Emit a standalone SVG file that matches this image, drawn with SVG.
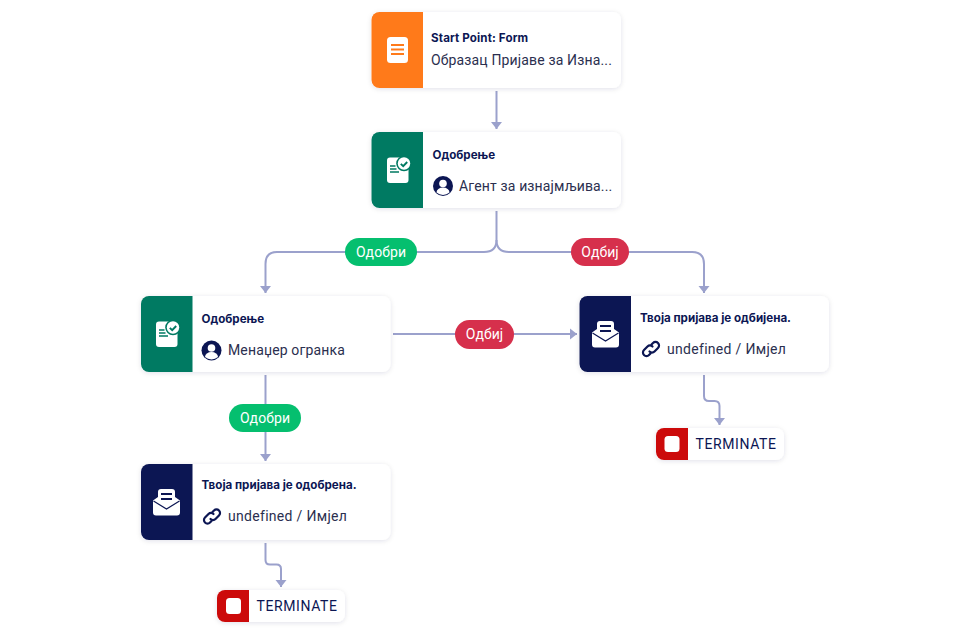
<svg xmlns="http://www.w3.org/2000/svg" width="968" height="633" viewBox="0 0 968 633">
<style>
.card{fill:#fff;filter:url(#sh)}
.t{font-family:Inter,"Noto Sans",sans-serif;font-size:11.600px;font-weight:700;fill:#0c1653}
.b{font-family:Roboto,"Noto Sans",sans-serif;font-size:14px;fill:#2b2f4f;letter-spacing:.15px}
.u{letter-spacing:.3px}
.l{font-family:Roboto,"Noto Sans",sans-serif;font-size:14px;fill:#fff;text-anchor:middle;letter-spacing:.1px}
.c{fill:none;stroke:#9ba1cc;stroke-width:2}
.k{font-family:Roboto,"Noto Sans",sans-serif;font-size:14px;fill:#0c1653;letter-spacing:.6px}
</style>
<defs>
<filter id="sh" x="-10%" y="-20%" width="120%" height="140%"><feDropShadow dx="0" dy="1" stdDeviation="2.500" flood-color="#1a2050" flood-opacity=".12"/></filter>
<marker id="a" markerUnits="userSpaceOnUse" markerWidth="8" markerHeight="12" refX="7" refY="6" orient="auto"><path d="M0 .5L7 6L0 11.500Z" fill="#9ba1cc"/></marker>
<g id="ic-approve"><rect y="0" width="21.500" height="25.500" rx="3" fill="#fff"/><circle cx="17" cy="6" r="7.800" fill="#007a62"/><circle cx="17" cy="6" r="6.200" fill="#fff"/><path d="M13.800 6.300l2.400 2.400 4-4.200" fill="none" stroke="#007a62" stroke-width="1.900"/><path d="M3 8.500h5.500M3 11.500h6.500M3 14.500h9" stroke="#007a62" stroke-width="1.500"/></g>
<g id="ic-mail"><path d="M0 11.500L5 8V3a3 3 0 0 1 3-3h11a3 3 0 0 1 3 3v5l5 3.500v12a3 3 0 0 1-3 3H3a3 3 0 0 1-3-3Z" fill="#fff"/><path d="M.5 12l13 8 13-8" fill="none" stroke="#0c1653" stroke-width="1.200"/><path d="M8 5h11M8 10h11" stroke="#0c1653" stroke-width="2.200"/></g>
<g id="ic-user"><circle r="10" fill="#0c1653"/><circle cy="-2.500" r="3.800" fill="#fff"/><path d="M-6.500 6.500a6.500 5 0 0 1 13 0a10 10 0 0 1-13 0Z" fill="#fff"/></g>
<g id="ic-link" fill="none" stroke="#0c1653" stroke-width="2.200" stroke-linecap="round"><path d="M-1.500 2.500a3.500 3.500 0 0 0 5 0l3.500-3.500a3.500 3.500 0 0 0-5-5l-1.500 1.500"/><path d="M1.500-2.500a3.500 3.500 0 0 0-5 0l-3.500 3.500a3.500 3.500 0 0 0 5 5l1.500-1.500"/></g>
<g id="ic-stop"><rect x="-7.500" y="-8" width="15" height="16" rx="3.500" fill="#fff"/></g>
</defs>
<rect width="968" height="633" fill="#fff"/>
<g id="connectors">
<path class="c" d="M496.500 91V129" marker-end="url(#a)"/>
<path class="c" d="M496.500 211V240Q496.500 252 484 252H277Q265.500 252 265.500 264V293" marker-end="url(#a)"/>
<path class="c" d="M496.500 240Q496.500 252 509 252H692Q704 252 704 264V293" marker-end="url(#a)"/>
<path class="c" d="M393 334H577" marker-end="url(#a)"/>
<path class="c" d="M265.500 375V461" marker-end="url(#a)"/>
<path class="c" d="M704 375V396Q704 401 709 401H714.500Q719.500 401 719.500 406V425" marker-end="url(#a)"/>
<path class="c" d="M265.500 543V560Q265.500 564.500 270 564.500H276.500Q281 564.500 281 569V587" marker-end="url(#a)"/>
<g id="label-odobri-1"><rect x="345" y="238" width="72" height="28" rx="14" fill="#05bf6f"/><text class="l" x="381" y="257">Одобри</text></g>
<g id="label-odbij-1"><rect x="571" y="238" width="58" height="28" rx="14" fill="#d6304c"/><text class="l" x="600" y="257">Одбиј</text></g>
<g id="label-odbij-2"><rect x="455" y="320" width="59" height="29" rx="14.500" fill="#d6304c"/><text class="l" x="484.500" y="339">Одбиј</text></g>
<g id="label-odobri-2"><rect x="229" y="404" width="72" height="28" rx="14" fill="#05bf6f"/><text class="l" x="265" y="423">Одобри</text></g>
</g>
<g id="node-start">
<rect class="card" x="371.500" y="12" width="249.500" height="76" rx="8"/>
<path d="M379.500 12H423V88H379.500a8 8 0 0 1-8-8V20a8 8 0 0 1 8-8Z" fill="#ff7a1a"/>
<rect x="387" y="37" width="21" height="26" rx="3.500" fill="#fff"/><path d="M391 45h13M391 49.500h13M391 54h13" stroke="#ff7a1a" stroke-width="2"/>
<text class="t" x="431" y="42" letter-spacing=".12">Start Point: Form</text>
<text class="b" x="431" y="65">Образац Пријаве за Изна...</text>
</g>
<g id="node-agent">
<rect class="card" x="371.500" y="132" width="249.500" height="76" rx="8"/>
<path d="M379.500 132H423V208H379.500a8 8 0 0 1-8-8V140a8 8 0 0 1 8-8Z" fill="#007a62"/>
<use href="#ic-approve" x="387" y="157.500"/>
<text class="t" x="432.500" y="159">Одобрење</text>
<use href="#ic-user" x="443" y="186"/>
<text class="b" x="459" y="191">Агент за изнајмљива...</text>
</g>
<g id="node-manager">
<rect class="card" x="141" y="296" width="249.500" height="76" rx="8"/>
<path d="M149 296H192.500V372H149a8 8 0 0 1-8-8V304a8 8 0 0 1 8-8Z" fill="#007a62"/>
<use href="#ic-approve" x="156" y="321.500"/>
<text class="t" x="201.500" y="323">Одобрење</text>
<use href="#ic-user" x="211.500" y="350.500"/>
<text class="b" x="228" y="355">Менаџер огранка</text>
</g>
<g id="node-rejected">
<rect class="card" x="579.500" y="296" width="249.500" height="76" rx="8"/>
<path d="M587.500 296H631V372H587.500a8 8 0 0 1-8-8V304a8 8 0 0 1 8-8Z" fill="#0c1653"/>
<use href="#ic-mail" x="592" y="321"/>
<text class="t" x="640" y="322">Твоја пријава је одбијена.</text>
<use href="#ic-link" x="651" y="349"/>
<text class="b u" x="667" y="354">undefined / Имјел</text>
</g>
<g id="node-approved">
<rect class="card" x="141" y="464" width="249.500" height="76" rx="8"/>
<path d="M149 464H192.500V540H149a8 8 0 0 1-8-8V472a8 8 0 0 1 8-8Z" fill="#0c1653"/>
<use href="#ic-mail" x="153" y="489"/>
<text class="t" x="201.500" y="489">Твоја пријава је одобрена.</text>
<use href="#ic-link" x="212" y="516.500"/>
<text class="b u" x="228" y="521">undefined / Имјел</text>
</g>
<g id="node-terminate-right">
<rect class="card" x="656" y="428" width="128" height="32" rx="8"/>
<path d="M664 428H688V460H664a8 8 0 0 1-8-8V436a8 8 0 0 1 8-8Z" fill="#cc0a0a"/>
<use href="#ic-stop" x="672" y="444"/>
<text class="k" x="695.500" y="449">TERMINATE</text>
</g>
<g id="node-terminate-left">
<rect class="card" x="217" y="590" width="128" height="32" rx="8"/>
<path d="M225 590H249V622H225a8 8 0 0 1-8-8V598a8 8 0 0 1 8-8Z" fill="#cc0a0a"/>
<use href="#ic-stop" x="233.500" y="606"/>
<text class="k" x="256.500" y="611">TERMINATE</text>
</g>
</svg>
